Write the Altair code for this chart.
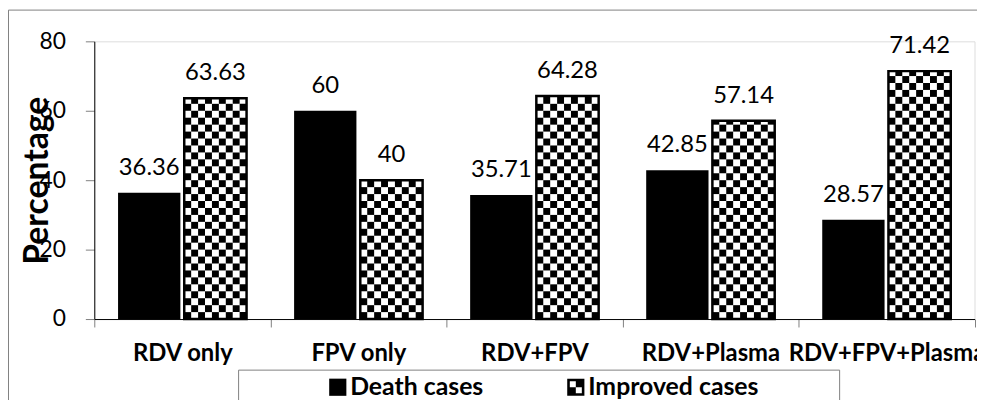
import json
import altair as alt
import pandas as pd

categories = ["RDV only", "FPV only", "RDV+FPV", "RDV+Plasma", "RDV+FPV+Plasma"]
death = [36.36, 60, 35.71, 42.85, 28.57]
improved = [63.63, 40, 64.28, 57.14, 71.42]
series = ["Death cases", "Improved cases"]
y_ticks = [0, 20, 40, 60, 80]

rows = []
for i, c in enumerate(categories):
    rows.append({"cat": c, "idx": i, "series": series[0], "value": death[i]})
    rows.append({"cat": c, "idx": i, "series": series[1], "value": improved[i]})
df = pd.DataFrame(rows)

FONT = "Lato"
D0, D1 = 0.135, 0.489   # death bar span within a category band
I0, I1 = 0.511, 0.865   # improved bar span within a category band
NCOL = 9
CW = (I1 - I0) / NCOL
CELL = 2

cat_js = json.dumps(categories)
x_vals = [i * 0.5 for i in range(11)]
xaxis = alt.Axis(
    values=x_vals,
    labelExpr=f"datum.value % 1 === 0 ? '' : {cat_js}[floor(datum.value)]",
    title=None, grid=False,
    tickOpacity={"condition": {"test": "datum.value % 1 === 0", "value": 1}, "value": 0},
    tickSize=8, tickColor="#808080", domainColor="black", domainWidth=1,
    labelFont=FONT, labelFontSize=24, labelFontWeight="bold", labelColor="black",
    labelOverlap=False, labelFlush=False, labelBound=False, labelLimit=500,
    labelBaseline="alphabetic", labelPadding=34,
)
yaxis = alt.Axis(
    values=y_ticks, title="Percentage", grid=False,
    tickSize=9, tickColor="#808080", domainColor="black", domainWidth=1,
    labelFont=FONT, labelFontSize=23, labelColor="black", labelPadding=20,
    titleFont=FONT, titleFontSize=34, titleFontWeight="bold", titleColor="black",
    titleAngle=270, titleBaseline="alphabetic", titleX=-47, titleY=140,
)
xscale = alt.Scale(domain=[0, 5], nice=False, zero=False)
yscale = alt.Scale(domain=[0, 80], nice=False)

def X(f):
    return alt.X(f"{f}:Q", scale=xscale, axis=xaxis)

def Y(f):
    return alt.Y(f"{f}:Q", scale=yscale, axis=yaxis)

base = alt.Chart(df)

death_bars = base.transform_filter(f"datum.series == '{series[0]}'").transform_calculate(
    xa=f"datum.idx + {D0}", xb=f"datum.idx + {D1}"
).mark_rect(color="black").encode(x=X("xa"), x2="xb:Q", y=Y("value"), y2=alt.datum(0))

imp_fill = base.transform_filter(f"datum.series == '{series[1]}'").transform_calculate(
    xa=f"datum.idx + {I0}", xb=f"datum.idx + {I1}"
).mark_rect(color="white").encode(x=X("xa"), x2="xb:Q", y=Y("value"), y2=alt.datum(0))

cells = (
    base.transform_filter(f"datum.series == '{series[1]}'")
    .transform_calculate(r=f"sequence(0, ceil(datum.value / {CELL}))")
    .transform_flatten(["r"])
    .transform_calculate(c=f"sequence(0, {NCOL})")
    .transform_flatten(["c"])
    .transform_filter("(datum.r + datum.c) % 2 == 0")
    .transform_calculate(
        xa=f"datum.idx + {I0} + datum.c * {CW}",
        xb=f"datum.idx + {I0} + (datum.c + 1) * {CW}",
        ya=f"datum.r * {CELL}",
        yb=f"min((datum.r + 1) * {CELL}, datum.value)",
    )
    .mark_rect(color="black")
    .encode(x=X("xa"), x2="xb:Q", y=Y("ya"), y2="yb:Q")
)

imp_outline = base.transform_filter(f"datum.series == '{series[1]}'").transform_calculate(
    xa=f"datum.idx + {I0}", xb=f"datum.idx + {I1}"
).mark_rect(fill="transparent", stroke="black", strokeWidth=2.5).encode(
    x=X("xa"), x2="xb:Q", y=Y("value"), y2=alt.datum(0)
)

labels = base.transform_calculate(
    xc=f"datum.idx + (datum.series == '{series[0]}' ? {(D0 + D1) / 2} : {(I0 + I1) / 2})"
).mark_text(font=FONT, fontSize=24, color="black", baseline="alphabetic", dy=-18).encode(
    x=X("xc"), y=Y("value"), text="value:Q"
)

one = alt.Chart(pd.DataFrame({"a": [0]}))
frame_top = one.mark_rule(color="#808080", strokeWidth=1).encode(
    x=alt.value(-86.5), x2=alt.value(1000), y=alt.value(-31.5)
)
frame_left = one.mark_rule(color="#808080", strokeWidth=1).encode(
    x=alt.value(-86.5), y=alt.value(-31.5), y2=alt.value(420)
)
legend_box = one.mark_rect(fill="white", stroke="#808080", strokeWidth=1).encode(
    x=alt.value(145.5), x2=alt.value(751.5), y=alt.value(331.5), y2=alt.value(420)
)

checker_path = (
    "M-1,-1H1V1H-1Z"
    "M-0.7,-0.7V0.7H0.7V-0.7Z"
    "M0,-0.7H0.7V0H0Z"
    "M-0.7,0H0V0.7H-0.7Z"
)
legend_layer = alt.Chart(pd.DataFrame({"series": series})).mark_point(
    filled=True, opacity=0, color="black"
).encode(
    x=alt.value(0), y=alt.value(0),
    shape=alt.Shape(
        "series:N",
        scale=alt.Scale(domain=series, range=["square", checker_path]),
        legend=alt.Legend(
            orient="none", legendX=233, legendY=336, direction="horizontal", columns=2,
            title=None, labelFont=FONT, labelFontSize=25, labelFontWeight="bold",
            labelColor="black", labelLimit=400, labelOffset=0,
            symbolSize=300, symbolFillColor="black", symbolStrokeWidth=0,
            symbolOpacity=1, columnPadding=80, padding=0,
        ),
    ),
)

chart = alt.layer(
    frame_top, frame_left, legend_box, death_bars, imp_fill, cells, imp_outline, labels,
    legend_layer,
).properties(
    width=887.5, height=280,
    autosize=alt.AutoSizeParams(type="none"),
    padding={"left": 87, "top": 32, "right": 2.5, "bottom": 80},
).configure_view(stroke="transparent").configure(background="white")

chart.save("out.html", embed_options={"renderer": "svg", "actions": False})
